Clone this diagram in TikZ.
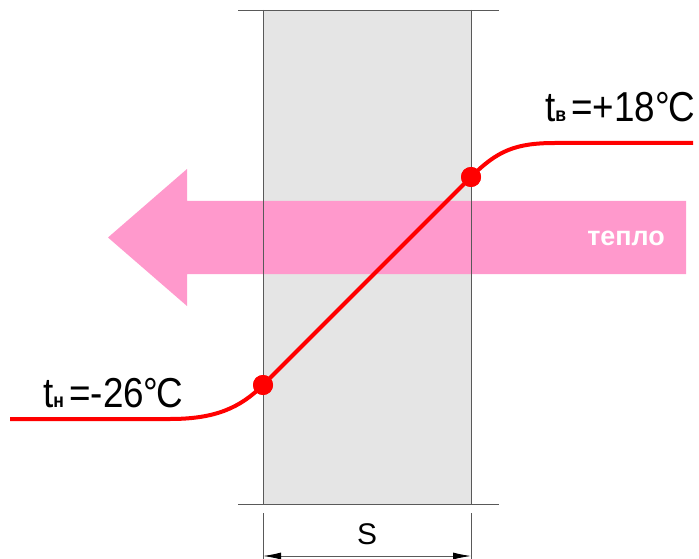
\documentclass[tikz,border=0pt]{standalone}
\usepackage{fontspec}
\setmainfont{Liberation Sans}
\usetikzlibrary{arrows.meta}
\definecolor{wallgray}{HTML}{E5E5E5}
\definecolor{heatpink}{HTML}{FF99CC}
\definecolor{tred}{HTML}{FF0000}
\tikzset{
  wall/.style={fill=wallgray,draw=none},
  edge/.style={draw=black!65,line width=0.9bp},
  temp/.style={draw=tred,line width=4bp},
  tdot/.style={circle,fill=tred,inner sep=0pt,minimum size=20bp},
  lbl/.style={font=\fontsize{42}{42}\selectfont,inner sep=0pt,anchor=base west,xscale=0.88},
}
\newcommand{\degC}{°\kern-2bp C}
\begin{document}
\begin{tikzpicture}[x=1bp,y=-1bp]
\useasboundingbox (0,0) rectangle (699,559);
% wall
\fill[wall] (263,10) rectangle (471,504);
% heat arrow
\fill[heatpink] (686,201) -- (187,201) -- (187,169) -- (108,237.5) -- (187,306) -- (187,274) -- (686,274) -- cycle;
\node[text=white,font=\bfseries\fontsize{27}{27}\selectfont,anchor=east,inner sep=0pt] (heat) at (665,238) {тепло};
% wall edges
\draw[edge] (238,10) -- (499,10);
\draw[edge] (238,504) -- (499,504);
\draw[edge] (263,10) -- (263,504);
\draw[edge] (471,10) -- (471,504);
% dimension
\coordinate (dl) at (263,556);
\coordinate (dr) at (471,556);
\draw[edge] (263,513) -- (263,559);
\draw[edge] (471,513) -- (471,559);
\draw[edge,{Latex[length=18bp,width=7bp,black]}-{Latex[length=18bp,width=7bp,black]}] (dl) -- (dr);
\node[font=\fontsize{30}{30}\selectfont,inner sep=0pt,anchor=base] (s) at (367,544) {S};
% temperature profile
\node[tdot] (p1) at (263,385) {};
\node[tdot] (p2) at (471,177) {};
\draw[temp] (10,419) -- (170,419) .. controls (215,419) and (240,408) .. (p1.center) -- (p2.center) .. controls (497,151) and (515,143) .. (555,143) -- (693,143);
\node[tdot] at (p1) {};
\node[tdot] at (p2) {};
% labels
\node[lbl] (tout) at (43,407) {t{\fontsize{20}{20}\selectfont\bfseries н}\kern6bp=-26\degC};
\node[lbl] (tin) at (545,122) {t{\fontsize{20}{20}\selectfont\bfseries в}\kern6bp=+18\degC};
\end{tikzpicture}
\end{document}
